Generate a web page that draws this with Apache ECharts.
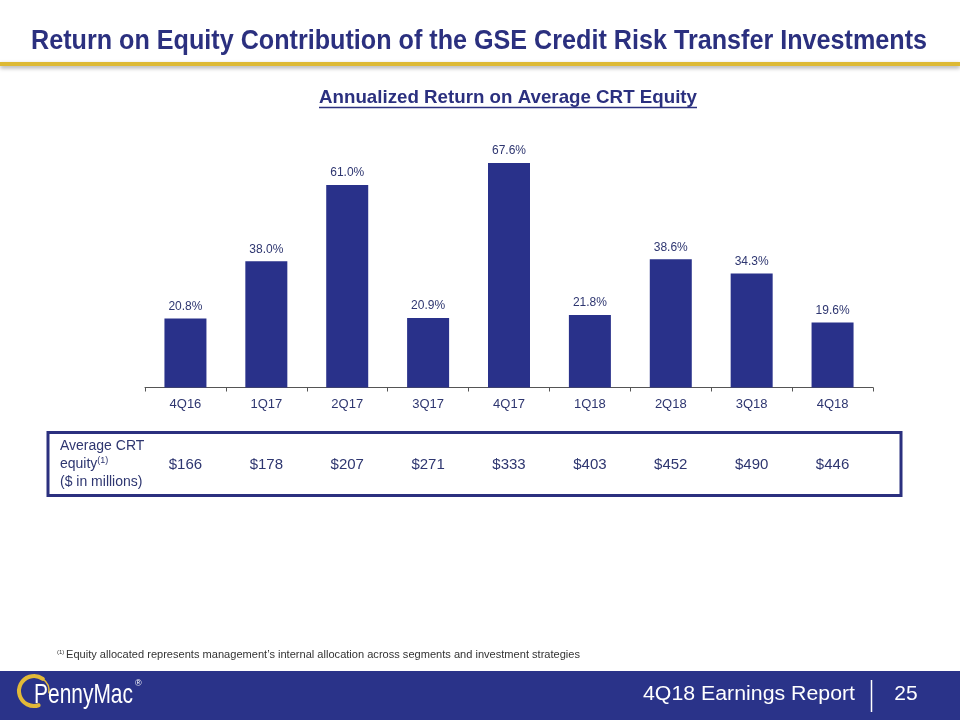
<!DOCTYPE html>
<html>
<head>
<meta charset="utf-8">
<script src="https://cdn.jsdelivr.net/npm/echarts@6/dist/echarts.min.js"></script>
<style>
html,body{margin:0;padding:0;background:#fff;}
#main{width:960px;height:720px;}
</style>
</head>
<body>
<div id="main"></div>
<script>
const categories = ['4Q16','1Q17','2Q17','3Q17','4Q17','1Q18','2Q18','3Q18','4Q18'];
const roeValues = [20.8, 38.0, 61.0, 20.9, 67.6, 21.8, 38.6, 34.3, 19.6];
const equityValues = [166, 178, 207, 271, 333, 403, 452, 490, 446];
const titleText = 'Return on Equity Contribution of the GSE Credit Risk Transfer Investments';
const subtitleText = 'Annualized Return on Average CRT Equity';
const footnoteText = 'Equity allocated represents management\u2019s internal allocation across segments and investment strategies';
const footerText = '4Q18 Earnings Report';
const pageNumber = '25';
const logoText = 'PennyMac';

const NAVY = '#29318A';
const TITLENAVY = '#2B307F';
const TEXTNAVY = '#2E3670';
const SANS = '"Liberation Sans",Arial,sans-serif';

function measure(text, font){
  const c = document.createElement('canvas').getContext('2d');
  c.font = font;
  return c.measureText(text).width;
}
// text element horizontally scaled to fit a target width (emulates condensed fonts)
function fitText(text, font, x, y, width, fill, align){
  const w = measure(text, font);
  const s = width / w;
  const left = align === 'center' ? x - width/2 : (align === 'right' ? x - width : x);
  return {
    type: 'text', x: left, y: y, scaleX: s, originX: 0, originY: 0,
    style: {text: text, font: font, fill: fill, align: 'left', verticalAlign: 'middle'}
  };
}

const chart = echarts.init(document.getElementById('main'), null, {renderer:'canvas'});

const subFont = 'bold 19px ' + SANS;
const subX = 508, subWidth = 378;

const option = {
  animation: false,
  backgroundColor: '#ffffff',
  grid: {left: 145, right: 87, top: 155, bottom: 332.5, containLabel: false},
  xAxis: [{
    type: 'category',
    data: categories,
    position: 'bottom',
    axisLine: {show: true, lineStyle: {color: '#555555', width: 1}},
    axisTick: {show: true, length: 4, lineStyle: {color: '#555555'}},
    axisLabel: {color: TEXTNAVY, fontSize: 13, fontFamily: SANS, margin: 10}
  }, {
    type: 'category',
    data: equityValues.map(v => '$' + v),
    position: 'bottom',
    offset: 63,
    axisLine: {show: false},
    axisTick: {show: false},
    axisLabel: {color: TEXTNAVY, fontSize: 15, fontFamily: SANS, margin: 7}
  }],
  yAxis: {
    type: 'value', min: 0, max: 70, show: false,
    splitLine: {show: false}
  },
  series: [{
    type: 'bar',
    data: roeValues,
    barWidth: 42,
    itemStyle: {color: NAVY},
    label: {
      show: true, position: 'top', distance: 6,
      formatter: p => p.value.toFixed(1) + '%',
      color: TEXTNAVY, fontSize: 12, fontFamily: SANS
    }
  }],
  graphic: [
    // title
    fitText(titleText, 'bold 27px ' + SANS, 31, 42, 896, TITLENAVY, 'left'),
    // gold rule with shadow
    {type: 'rect', shape: {x: 0, y: 62, width: 960, height: 4}, style: {fill: '#DDB934', shadowColor: 'rgba(0,0,0,0.35)', shadowBlur: 4, shadowOffsetY: 2}},
    // subtitle
    fitText(subtitleText, subFont, subX, 98, subWidth, TITLENAVY, 'center'),
    {type: 'line', shape: {x1: subX - subWidth/2, y1: 107.5, x2: subX + subWidth/2, y2: 107.5}, style: {stroke: TITLENAVY, lineWidth: 1.3}},
    // table box
    {type: 'rect', shape: {x: 48, y: 432.5, width: 853, height: 63}, style: {fill: 'none', stroke: TITLENAVY, lineWidth: 3}},
    {type: 'text', x: 60, y: 446, style: {text: 'Average CRT', fill: TEXTNAVY, font: '14px ' + SANS, verticalAlign: 'middle'}},
    {type: 'text', x: 60, y: 464, style: {text: 'equity{s|(1)}', rich: {s: {fontSize: 9, padding: [0,0,6,0], fill: TEXTNAVY}}, fill: TEXTNAVY, font: '14px ' + SANS, verticalAlign: 'middle'}},
    {type: 'text', x: 60, y: 482, style: {text: '($ in millions)', fill: TEXTNAVY, font: '14px ' + SANS, verticalAlign: 'middle'}},
    // footnote
    {type: 'text', x: 57, y: 652, style: {text: '(1)', fill: '#333333', font: '6px ' + SANS, verticalAlign: 'middle'}},
    fitText(footnoteText, '11px ' + SANS, 66, 655, 514, '#333333', 'left'),
    // footer band
    {type: 'rect', shape: {x: 0, y: 671, width: 960, height: 49}, style: {fill: '#2A3389'}},
    fitText(footerText, '20px ' + SANS, 855, 694, 212, '#ffffff', 'right'),
    {type: 'line', shape: {x1: 871.5, y1: 680, x2: 871.5, y2: 712}, style: {stroke: '#ffffff', lineWidth: 1.5}},
    {type: 'text', x: 906, y: 694, style: {text: pageNumber, fill: '#ffffff', font: '21px ' + SANS, align: 'center', verticalAlign: 'middle'}},
    // logo
    {type: 'arc', shape: {cx: 34, cy: 691, r: 15, startAngle: Math.PI*0.4, endAngle: Math.PI*1.7}, style: {stroke: '#E2B938', lineWidth: 4, fill: 'none', lineCap: 'round'}},
    {type: 'arc', shape: {cx: 34, cy: 691, r: 15, startAngle: Math.PI*1.7, endAngle: Math.PI*2.05}, style: {stroke: '#E2B938', lineWidth: 1.5, fill: 'none'}},
    fitText(logoText, '28px ' + SANS, 34, 695, 99, '#ffffff', 'left'),
    {type: 'text', x: 135, y: 684, style: {text: '\u00AE', fill: '#ffffff', font: '9px ' + SANS, verticalAlign: 'middle'}}
  ]
};
chart.setOption(option);
</script>
</body>
</html>
